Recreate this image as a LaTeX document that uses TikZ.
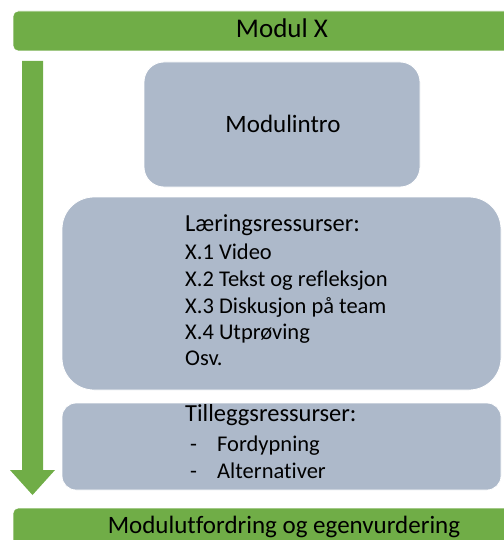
\documentclass[tikz,border=0pt]{standalone}
\usepackage{fontspec}
\setmainfont{Carlito}[Ligatures=NoCommon]
\definecolor{bargreen}{HTML}{70AD47}
\definecolor{boxgray}{HTML}{ADB9CA}
\begin{document}
\begin{tikzpicture}[x=1pt,y=-1pt,
  bar/.style={fill=bargreen, draw=white, line width=0.8pt, rounded corners=5pt},
  panel/.style={fill=boxgray, draw=white, line width=0.8pt},
  big/.style={font=\fontsize{25}{27}\selectfont},
  head/.style={font=\fontsize{24.5}{27}\selectfont, inner sep=0pt, anchor=base west},
  item/.style={font=\fontsize{22.5}{27}\selectfont, inner sep=0pt, anchor=base west}]
\useasboundingbox (0,0) rectangle (503,540);
% top bar
\path[bar] (13,11) rectangle (520,51);
\node[font=\fontsize{27}{29}\selectfont] (top) at (282,28.5) {Modul X};
% bottom bar
\path[bar] (13,508) rectangle (520,560);
\node[big] (bottom) at (284,527) {Modulutfordring og egenvurdering};
% arrow
\fill[bargreen] (22,61) -- (43,61) -- (43,470) -- (55,470) -- (32.5,495) -- (10,470) -- (22,470) -- cycle;
% Modulintro
\path[panel, rounded corners=20pt] (144,62) rectangle (420,187);
\node[big] (intro) at (283,124) {Modulintro};
% Læringsressurser
\path[panel, rounded corners=32pt] (62,197) rectangle (501,390);
\node[head] (lr) at (185,231.7) {Læringsressurser:};
\node[item] (x1) at (185,259.3) {X.1 Video};
\node[item] (x2) at (185,286.5) {X.2 Tekst og refleksjon};
\node[item] (x3) at (185,313) {X.3 Diskusjon på team};
\node[item] (x4) at (185,339.3) {X.4 Utprøving};
\node[item] (x5) at (185,365.7) {Osv.};
% Tilleggsressurser
\path[panel, rounded corners=14pt] (62,403) rectangle (501,490);
\node[head] (tr) at (185,421.5) {Tilleggsressurser:};
\node[item] (t1) at (190,451) {-};
\node[item] (t1b) at (217,451) {Fordypning};
\node[item] (t2) at (190,478) {-};
\node[item] (t2b) at (217,478) {Alternativer};
\end{tikzpicture}
\end{document}
